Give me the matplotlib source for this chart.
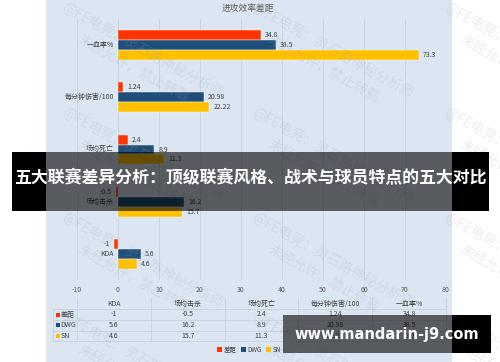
import matplotlib
matplotlib.use("Agg")
import matplotlib.pyplot as plt
from matplotlib.patches import Rectangle, Patch

plt.rcParams['font.family'] = ['Noto Sans CJK SC', 'DejaVu Sans']

# ---------------- data ----------------
categories = ['KDA', '场均击杀', '场均死亡', '每分钟伤害/100', '一血率%']   # bottom -> top
series_names = ['差距', 'DWG', 'SN']
diff_vals = [-1, -0.5, 2.4, 1.24, 34.8]
dwg_vals = [5.6, 16.2, 8.9, 20.98, 38.5]
sn_vals = [4.6, 15.7, 11.3, 22.22, 73.3]
x_ticks = [-10, 0, 10, 20, 30, 40, 50, 60, 70, 80]
title = '进攻效率差距'
banner = '五大联赛差异分析：顶级联赛风格、战术与球员特点的五大对比'
site = 'www.mandarin-j9.com'
wm_line1 = '@FE电竞：灵石路神秘分析师'
wm_line2 = '未经允许，禁止转载'

colors = ['#FF3300', '#1F4E79', '#FFC000']
series = [diff_vals, dwg_vals, sn_vals]
PANEL = '#DCE6F2'
GRID = '#C6D1DF'
TXT = '#404040'

W, H = 500, 362
fig = plt.figure(figsize=(W / 100, H / 100), dpi=100)
fig.patch.set_facecolor('white')

# background axes in pixel coordinates
bg = fig.add_axes([0, 0, 1, 1])
bg.set_xlim(0, W); bg.set_ylim(H, 0); bg.axis('off'); bg.set_zorder(0)
bg.add_patch(Rectangle((46, 0), 406, H, facecolor=PANEL, edgecolor='none'))
bg.text(248, 8, title, fontsize=6.3, color='#595959', ha='center', va='center')

# main axes
L, R, T, B = 77, 446, 19, 280
ax = fig.add_axes([L / W, 1 - B / H, (R - L) / W, (B - T) / H])
ax.set_zorder(1)
ax.patch.set_alpha(0)
ax.set_xlim(-10, 80)
ax.set_ylim(-0.5, len(categories) - 0.5)
for s in ax.spines.values():
    s.set_visible(False)
ax.set_xticks(x_ticks)
ax.set_xticklabels([str(t) for t in x_ticks])
ax.tick_params(axis='x', length=0, pad=4, labelsize=5, labelcolor='#595959')
ax.set_yticks([])
ax.xaxis.grid(True, color=GRID, lw=0.6)
ax.set_axisbelow(True)

bh = 0.19
offsets = [bh, 0, -bh]
for vals, col, off in zip(series, colors, offsets):
    ys = [i + off for i in range(len(categories))]
    ax.barh(ys, vals, height=bh, color=col, edgecolor='white', linewidth=0.3)
    for y, v in zip(ys, vals):
        ax.annotate(f'{v:g}', xy=(v, y), xytext=(3 if v >= 0 else -3, 0),
                    textcoords='offset points', ha='left' if v >= 0 else 'right',
                    va='center', fontsize=5, color=TXT)

for i, c in enumerate(categories):
    ax.annotate(c, xy=(0, i), xytext=(-3, 0), textcoords='offset points',
                ha='right', va='center', fontsize=5, color=TXT)

# data table (pixel coords)
ncol = len(categories)
cw = (R - L) / ncol
row_y = [304, 314.5, 325.3, 336]
hlines = [309, 320, 331, 341]
for y in hlines:
    bg.plot([53, R], [y, y], color=GRID, lw=0.6)
for k in range(ncol + 1):
    bg.plot([L + k * cw] * 2, [298, 341], color=GRID, lw=0.6)
bg.plot([53, 53], [309, 341], color=GRID, lw=0.6)
for k, c in enumerate(categories):
    bg.text(L + (k + 0.5) * cw, row_y[0], c, fontsize=5, color=TXT, ha='center', va='center')
for r, (name, vals, col) in enumerate(zip(series_names, series, colors)):
    y = row_y[r + 1]
    bg.add_patch(Rectangle((55.5, y - 2), 4, 4, facecolor=col, edgecolor='none'))
    bg.text(60.5, y, name, fontsize=5, color=TXT, ha='left', va='center')
    for k, v in enumerate(vals):
        bg.text(L + (k + 0.5) * cw, y, f'{v:g}', fontsize=5, color=TXT, ha='center', va='center')

# legend
handles = [Patch(facecolor=c, edgecolor='none', label=n) for c, n in zip(colors, series_names)]
leg = fig.legend(handles=handles, ncol=3, loc='center', bbox_to_anchor=(249 / W, 1 - 350 / H),
                 frameon=False, fontsize=4.6, handlelength=0.8, handleheight=0.8,
                 handletextpad=0.25, columnspacing=0.6, labelcolor=TXT)

# overlay: watermarks, banner, site box
ov = fig.add_axes([0, 0, 1, 1])
ov.set_xlim(0, W); ov.set_ylim(H, 0); ov.axis('off'); ov.set_zorder(3)
ov.patch.set_alpha(0)
clip = Rectangle((46, 0), 406, H, transform=ov.transData, facecolor='none', edgecolor='none')
ov.add_patch(clip)
for x0 in [60, 250, 442]:
    for y0 in [5, 110, 215, 315]:
        cx, cy = x0 + 83, y0 + 46
        t1 = ov.text(cx, cy, wm_line1, fontsize=10, color='#9AA6B4', alpha=0.2, rotation=-29,
                     rotation_mode='anchor', ha='center', va='center')
        t2 = ov.text(cx - 9, cy + 17, wm_line2, fontsize=10, color='#9AA6B4', alpha=0.2,
                     rotation=-29, rotation_mode='anchor', ha='center', va='center')
        t1.set_clip_path(clip); t2.set_clip_path(clip)

# banner
ov.add_patch(Rectangle((12, 152), 34, 59, facecolor='black', edgecolor='none', zorder=5))
ov.add_patch(Rectangle((452, 152), 37, 59, facecolor='black', edgecolor='none', zorder=5))
ov.add_patch(Rectangle((46, 152), 406, 59, facecolor='black', alpha=0.6, edgecolor='none', zorder=5))
ov.text(250, 178, banner, fontsize=12.2, fontweight='bold', color='white',
        ha='center', va='center', zorder=6)

# site box
ov.add_patch(Rectangle((283, 315), 169, 38, facecolor='black', alpha=0.6, edgecolor='none', zorder=5))
ov.add_patch(Rectangle((452, 315), 39, 38, facecolor='black', edgecolor='none', zorder=5))
ov.text(386.5, 335, site, fontsize=10.5, fontweight='bold', color='white',
        family='DejaVu Sans', ha='center', va='center', zorder=6)

fig.savefig('out.png', dpi=100)
